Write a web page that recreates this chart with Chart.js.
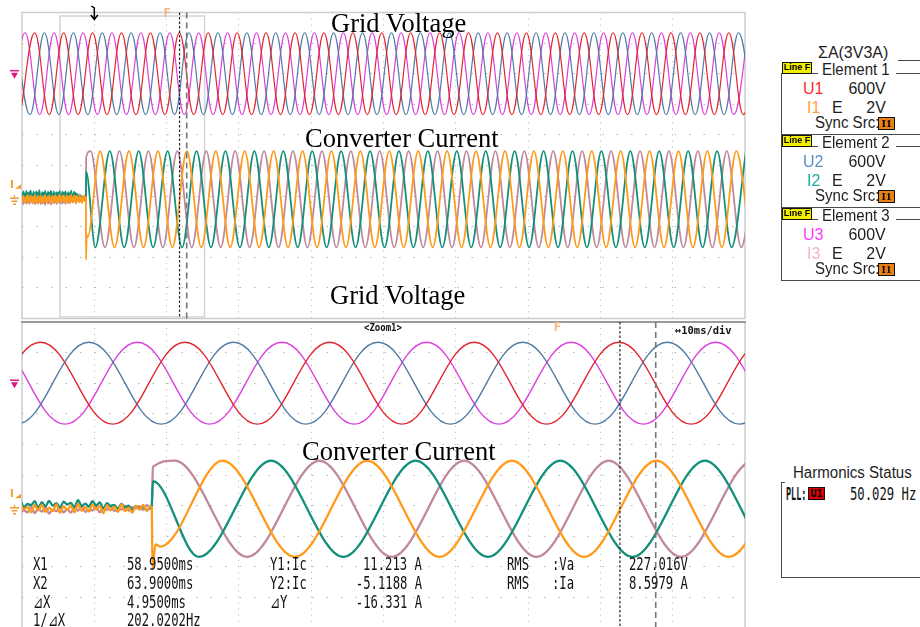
<!DOCTYPE html>
<html>
<head>
<meta charset="utf-8">
<script src="https://cdn.jsdelivr.net/npm/chart.js@4.4.1/dist/chart.umd.min.js"></script>
<style>
  body { margin:0; width:920px; height:627px; overflow:hidden; background:#fff; position:relative; }
  canvas { position:absolute; left:0; }
  .t { position:absolute; white-space:nowrap; line-height:1; }
  .serif { font-family:"Liberation Serif","Times New Roman",serif; font-size:26.5px; color:#000; }
  .mono { font-family:"DejaVu Sans Mono",monospace; font-size:17px; color:#111; transform-origin:left center; transform:translateY(-50%) scaleX(.72); }
  .sans { font-family:"Liberation Sans",Arial,sans-serif; font-size:16px; color:#1e1e1e; transform-origin:left center; transform:translateY(-50%) scaleX(.94); }
  .ln { position:absolute; background:#4a4a4a; }
  .bx { position:absolute; box-sizing:border-box; border:1px solid #111; text-align:center; color:#000; font-weight:bold; overflow:hidden; }
</style>
</head>
<body>
<canvas id="topScope" width="760" height="322" style="top:0"></canvas>
<canvas id="zoomScope" width="760" height="320" style="top:310px"></canvas>
<script>
// time in ms, trigger at 0
const topWindowMs = [-50, 450];        // 50 ms/div
const zoomWindowMs = [-23.75, 76.25];  // Zoom1, 10 ms/div
const cursorMs = [58.95, 63.90];       // X1, X2
const markerFMs = 50.3;

const vPeakV = 321;   // Va 227.016 V rms
const iPeakA = 12.2;  // Ia 8.5979 A rms

// grid voltage extremes (ms)
const u1PeakMs = [-41.2, -21.2, -1.2, 18.8, 38.8, 58.8, 78.8, 98.8, 118.8, 138.8, 158.8, 178.8, 198.8, 218.8, 238.8, 258.8, 278.8, 298.8, 318.8, 338.8, 358.8, 378.8, 398.8, 418.8, 438.8, 458.8];
const u1TroughMs = [-51.2, -31.2, -11.2, 8.8, 28.8, 48.8, 68.8, 88.8, 108.8, 128.8, 148.8, 168.8, 188.8, 208.8, 228.8, 248.8, 268.8, 288.8, 308.8, 328.8, 348.8, 368.8, 388.8, 408.8, 428.8, 448.8];
const u2PeakMs = [-54.5, -34.5, -14.5, 5.5, 25.5, 45.5, 65.5, 85.5, 105.5, 125.5, 145.5, 165.5, 185.5, 205.5, 225.5, 245.5, 265.5, 285.5, 305.5, 325.5, 345.5, 365.5, 385.5, 405.5, 425.5, 445.5];
const u2TroughMs = [-44.5, -24.5, -4.5, 15.5, 35.5, 55.5, 75.5, 95.5, 115.5, 135.5, 155.5, 175.5, 195.5, 215.5, 235.5, 255.5, 275.5, 295.5, 315.5, 335.5, 355.5, 375.5, 395.5, 415.5, 435.5, 455.5];
const u3PeakMs = [-47.8, -27.8, -7.8, 12.2, 32.2, 52.2, 72.2, 92.2, 112.2, 132.2, 152.2, 172.2, 192.2, 212.2, 232.2, 252.2, 272.2, 292.2, 312.2, 332.2, 352.2, 372.2, 392.2, 412.2, 432.2, 452.2];
const u3TroughMs = [-57.8, -37.8, -17.8, 2.2, 22.2, 42.2, 62.2, 82.2, 102.2, 122.2, 142.2, 162.2, 182.2, 202.2, 222.2, 242.2, 262.2, 282.2, 302.2, 322.2, 342.2, 362.2, 382.2, 402.2, 422.2, 442.2];

// converter current extremes (ms), after the converter starts
const i1PeakMs = [4, 24, 44, 64, 84, 104, 124, 144, 164, 184, 204, 224, 244, 264, 284, 304, 324, 344, 364, 384, 404, 424, 444];
const i1TroughMs = [14, 34, 54, 74, 94, 114, 134, 154, 174, 194, 214, 234, 254, 274, 294, 314, 334, 354, 374, 394, 414, 434, 454];
const i2PeakMs = [10.7, 30.7, 50.7, 70.7, 90.7, 110.7, 130.7, 150.7, 170.7, 190.7, 210.7, 230.7, 250.7, 270.7, 290.7, 310.7, 330.7, 350.7, 370.7, 390.7, 410.7, 430.7, 450.7];
const i2TroughMs = [0.7, 20.7, 40.7, 60.7, 80.7, 100.7, 120.7, 140.7, 160.7, 180.7, 200.7, 220.7, 240.7, 260.7, 280.7, 300.7, 320.7, 340.7, 360.7, 380.7, 400.7, 420.7, 440.7];
const i3PeakMs = [-2.6, 17.4, 37.4, 57.4, 77.4, 97.4, 117.4, 137.4, 157.4, 177.4, 197.4, 217.4, 237.4, 257.4, 277.4, 297.4, 317.4, 337.4, 357.4, 377.4, 397.4, 417.4, 437.4, 457.4];
const i3TroughMs = [7.4, 27.4, 47.4, 67.4, 87.4, 107.4, 127.4, 147.4, 167.4, 187.4, 207.4, 227.4, 247.4, 267.4, 287.4, 307.4, 327.4, 347.4, 367.4, 387.4, 407.4, 427.4, 447.4];

// start-up step [ms, A]
const i1Start = [[-5.8, 0.4], [-5.7, -15.3], [-5.3, -9.0], [-4.6, -9.6]];
const i2Start = [[-5.8, 1.0], [-5.65, 7.0]];
const i3Start = [[-5.8, -0.2], [-5.65, 10.6]];

// ripple before start, one sample every 0.5 ms from -50 ms (A)
const noiseStartMs = -50, noiseStepMs = 0.5;
const i1Noise = [0.6,-0.4,0.9,-0.7,0.3,-1.0,0.8,-0.2,1.1,-0.6,0.4,-0.9,1.0,-0.3,0.7,-1.1,0.5,-0.5,1.2,-0.8,0.2,-0.6,0.9,-1.0,0.6,-0.2,1.0,-0.7,0.3,-1.1,0.8,-0.4,1.1,-0.5,0.5,-0.9,0.7,-0.1,1.0,-0.8,0.4,-1.2,0.9,-0.3,0.6,-0.7,1.1,-0.5,0.2,-1.0,0.8,-0.6,1.2,-0.2,0.5,-0.9,0.9,-0.4,1.0,-0.8,0.3,-0.6,1.1,-1.0,0.6,-0.3,0.8,-0.9,1.2,-0.5,0.4,-0.7,1.0,-0.2,0.7,-1.1,0.9,-0.4,0.5,-0.8,1.1,-0.6,0.3,-1.0,0.8,-0.3,1.0,-0.5,0.6];
const i2Noise = [1.7,0.6,2.0,0.8,1.4,0.3,2.1,1.0,1.6,0.4,1.8,0.9,2.2,0.5,1.3,0.7,1.9,0.2,1.5,1.1,2.0,0.4,1.7,0.8,2.3,0.6,1.2,0.3,1.8,1.0,1.6,0.5,2.1,0.7,1.4,0.2,1.9,0.9,1.7,0.4,2.2,0.8,1.3,0.6,2.0,0.3,1.5,1.0,1.8,0.5,1.6,0.7,2.1,0.4,1.2,0.9,1.9,0.2,1.7,0.6,2.0,0.8,1.4,0.3,1.8,1.1,1.5,0.4,2.2,0.7,1.3,0.5,1.9,0.8,1.6,0.1,1.4,0.7,1.0,0.0,1.2,0.3,0.8,-0.3,0.7,0.0,0.6,-0.4,0.4];
const i3Noise = [-0.9,0.2,-1.3,-0.1,-0.6,0.4,-1.1,-0.3,-0.8,0.5,-1.2,0.0,-0.5,0.3,-1.0,-0.4,-0.7,0.6,-1.3,-0.2,-0.9,0.3,-1.1,0.1,-0.6,-0.5,-1.2,0.4,-0.8,-0.1,-1.0,0.2,-1.4,-0.3,-0.7,0.5,-1.1,0.0,-0.9,-0.4,-1.3,0.3,-0.6,0.1,-1.0,-0.2,-0.8,0.4,-1.2,-0.1,-0.5,0.2,-1.0,-0.4,-0.9,0.5,-1.1,0.0,-0.7,0.3,-1.2,-0.2,-0.6,0.4,-0.9,-0.1,-1.0,0.2,-0.5,0.6,-0.8,-0.3,-0.4,0.5,-0.9,0.1,-0.3,0.7,-0.6,0.2,-0.2,0.8,-0.5,0.4,0.1,0.6,-0.3,0.9,0.2];

const colors = { u1:'#e3262d', u2:'#4f7ba6', u3:'#dc3fdc', i1:'#ff9a1a', i2:'#12907a', i3:'#c0899b' };

function wave(peaks, troughs, amp) {
  return peaks.map(t => ({x: t, y: amp})).concat(troughs.map(t => ({x: t, y: -amp}))).sort((a, b) => a.x - b.x);
}
function current(noise, start, peaks, troughs) {
  const pre = noise.map((v, i) => ({x: noiseStartMs + i * noiseStepMs, y: v})).filter(p => p.x < start[0][0]);
  return pre.concat(start.map(([x, y]) => ({x, y})), wave(peaks, troughs, iPeakA));
}

function datasets(vw, iw) {
  const cur = (data, c) => ({data, yAxisID:'yI', borderColor:c, borderWidth:iw, pointRadius:0, tension:0.4, cubicInterpolationMode:'monotone'});
  const volt = (data, c) => ({data, yAxisID:'yV', borderColor:c, borderWidth:vw, pointRadius:0, tension:0.4});
  return [
    cur(current(i1Noise, i1Start, i1PeakMs, i1TroughMs), colors.i1),
    cur(current(i2Noise, i2Start, i2PeakMs, i2TroughMs), colors.i2),
    cur(current(i3Noise, i3Start, i3PeakMs, i3TroughMs), colors.i3),
    volt(wave(u1PeakMs, u1TroughMs, vPeakV), colors.u1),
    volt(wave(u2PeakMs, u2TroughMs, vPeakV), colors.u2),
    volt(wave(u3PeakMs, u3TroughMs, vPeakV), colors.u3)
  ];
}

const tenDivs = s => { s.ticks = Array.from({length: 11}, (_, i) => ({value: s.min + i * (s.max - s.min) / 10})); };
const gridColor = c => (c.index === 0 || c.index === 10) ? 'rgba(0,0,0,0)' : '#b4b4b4';

const scopeDecor = {
  id: 'scopeDecor',
  beforeDatasetsDraw(chart, args, o) {
    const {ctx, chartArea: a, scales: {x}} = chart;
    ctx.save();
    ctx.strokeStyle = '#cdcdcd'; ctx.lineWidth = 1.5;
    ctx.strokeRect(a.left, a.top, a.right - a.left, a.bottom - a.top);
    if (o.zoomed) {
      ctx.strokeStyle = '#9a9a9a'; ctx.lineWidth = 2;
      ctx.beginPath(); ctx.moveTo(a.left - 1, a.top); ctx.lineTo(a.right + 1, a.top); ctx.stroke();
    } else {
      const l = x.getPixelForValue(zoomWindowMs[0]), r = x.getPixelForValue(zoomWindowMs[1]);
      ctx.strokeStyle = '#d4d4d4'; ctx.lineWidth = 1.5;
      ctx.strokeRect(l, a.top + 3.5, r - l, a.bottom - a.top - 5);
    }
    ctx.restore();
  },
  afterDatasetsDraw(chart, args, o) {
    const {ctx, chartArea: a, scales: {x, yV, yI}} = chart;
    ctx.save();
    // cursors
    const x1 = x.getPixelForValue(cursorMs[0]), x2 = x.getPixelForValue(cursorMs[1]);
    ctx.strokeStyle = '#222'; ctx.lineWidth = 1.2; ctx.setLineDash([2.5, 2]);
    ctx.beginPath(); ctx.moveTo(x1, a.top); ctx.lineTo(x1, a.bottom); ctx.stroke();
    ctx.strokeStyle = '#777'; ctx.lineWidth = 1.6; ctx.setLineDash([6, 4]);
    ctx.beginPath(); ctx.moveTo(x2, a.top); ctx.lineTo(x2, a.bottom); ctx.stroke();
    ctx.setLineDash([]);
    // F marker
    const xf = x.getPixelForValue(markerFMs);
    ctx.fillStyle = '#f2b386'; ctx.font = 'bold 12px "DejaVu Sans Mono"';
    ctx.textAlign = 'center'; ctx.textBaseline = 'middle';
    ctx.fillText('F', xf, a.top + (o.zoomed ? 6 : 1));
    if (!o.zoomed) {
      const xt = x.getPixelForValue(0);
      ctx.strokeStyle = '#000'; ctx.lineWidth = 1.5;
      ctx.beginPath(); ctx.moveTo(xt - 3, 6); ctx.lineTo(xt, 8); ctx.lineTo(xt, 19);
      ctx.moveTo(xt - 3.5, 15); ctx.lineTo(xt, 19.5); ctx.lineTo(xt + 3.5, 15); ctx.stroke();
    }
    // voltage ground marker
    const yv = yV.getPixelForValue(0);
    ctx.strokeStyle = ctx.fillStyle = '#d61c7c'; ctx.lineWidth = 1.5;
    ctx.beginPath(); ctx.moveTo(10, yv - 3); ctx.lineTo(19, yv - 3); ctx.stroke();
    ctx.beginPath(); ctx.moveTo(11, yv - 1); ctx.lineTo(18, yv - 1); ctx.lineTo(14.5, yv + 5); ctx.closePath(); ctx.fill();
    // current level + ground marker
    const yi = yI.getPixelForValue(0);
    ctx.strokeStyle = ctx.fillStyle = '#f39a2c';
    ctx.font = 'bold 10px "DejaVu Sans"'; ctx.textAlign = 'left';
    ctx.fillText('I', 10, yi - 14);
    ctx.beginPath(); ctx.moveTo(15, yi - 10.5); ctx.lineTo(21, yi - 10.5); ctx.lineTo(21, yi - 15); ctx.closePath(); ctx.fill();
    ctx.lineWidth = 1.3;
    ctx.beginPath();
    ctx.moveTo(14.5, yi - 4); ctx.lineTo(14.5, yi - 1);
    ctx.moveTo(10, yi - 1); ctx.lineTo(19, yi - 1);
    ctx.moveTo(11.5, yi + 2); ctx.lineTo(17.5, yi + 2);
    ctx.moveTo(13, yi + 5); ctx.lineTo(16, yi + 5);
    ctx.stroke();
    ctx.restore();
  }
};

function scope(id, win, pad, zoomed, vw, iw) {
  return new Chart(document.getElementById(id), {
    type: 'line',
    data: { datasets: datasets(vw, iw) },
    options: {
      responsive: false, animation: false, events: [], parsing: false, normalized: true,
      layout: { padding: pad },
      plugins: { legend: {display: false}, tooltip: {enabled: false}, scopeDecor: {zoomed} },
      scales: {
        x: { type: 'linear', min: win[0], max: win[1], afterBuildTicks: tenDivs,
             ticks: {display: false}, grid: {color: gridColor, lineWidth: 1, drawTicks: false},
             border: {display: false, dash: [1, 5.1]} },
        yV: { type: 'linear', position: 'left', min: -1920, max: 480, afterBuildTicks: tenDivs,
              ticks: {display: false}, grid: {color: gridColor, lineWidth: 1, drawTicks: false},
              border: {display: false, dash: [1.5, 13]} },
        yI: { type: 'linear', display: false, min: -30.2, max: 47.3 }
      }
    },
    plugins: [scopeDecor]
  });
}

scope('topScope', topWindowMs, {left: 22, right: 15, top: 12.5, bottom: 3.5}, false, 1.2, 1.8);
scope('zoomScope', zoomWindowMs, {left: 22, right: 15, top: 12, bottom: 2}, true, 1.4, 2.3);

// ---- text ----
function label(text, x, y, cls, style) {
  const d = document.createElement('div');
  d.className = 't ' + cls;
  d.textContent = text;
  d.style.left = x + 'px'; d.style.top = y + 'px';
  if (style) Object.assign(d.style, style);
  document.body.appendChild(d);
  return d;
}
function right(text, x, y, cls, style) {
  return label(text, 0, y, cls, Object.assign({left: 'auto', right: (920 - x) + 'px', transformOrigin: 'right center'}, style || {}));
}
function line(x, y, w, h) {
  const d = document.createElement('div');
  d.className = 'ln';
  Object.assign(d.style, {left: x + 'px', top: y + 'px', width: w + 'px', height: h + 'px'});
  document.body.appendChild(d);
}
function box(text, x, y, w, h, bg, font) {
  const d = document.createElement('div');
  d.className = 'bx';
  d.textContent = text;
  Object.assign(d.style, {left: x + 'px', top: y + 'px', width: w + 'px', height: h + 'px', background: bg, font: font, lineHeight: (h - 2) + 'px'});
  document.body.appendChild(d);
}

// titles (baseline - 22.2)
label('Grid Voltage', 331, 32 - 22.2, 'serif');
label('Converter Current', 305, 147.5 - 22.2, 'serif');
label('Grid Voltage', 330, 304 - 22.2, 'serif');
label('Converter Current', 302, 460 - 22.2, 'serif');

// zoom header
label('<Zoom1>', 364, 328, 'mono', {fontSize: '10px', fontWeight: 'bold', transform: 'translateY(-50%) scaleX(.9)'});
label('\u2194' + '10ms/div', 675, 330, 'mono', {fontSize: '11px', fontWeight: 'bold', transform: 'translateY(-50%) scaleX(.95)'});

// cursor readouts
const rowY = [564, 583, 601.5, 620];
['X1', 'X2', '\u22BFX', '1/\u22BFX'].forEach((s, i) => label(s, 33, rowY[i], 'mono'));
['58.9500ms', '63.9000ms', '4.9500ms', '202.0202Hz'].forEach((s, i) => label(s, 127, rowY[i], 'mono'));
['Y1:Ic', 'Y2:Ic', '\u22BFY'].forEach((s, i) => label(s, 270, rowY[i], 'mono'));
['11.213 A', '-5.1188 A', '-16.331 A'].forEach((s, i) => right(s, 422, rowY[i], 'mono'));
['RMS', 'RMS'].forEach((s, i) => label(s, 507, rowY[i], 'mono'));
[':Va', ':Ia'].forEach((s, i) => label(s, 552, rowY[i], 'mono'));
['227.016V', '8.5979 A'].forEach((s, i) => label(s, 629, rowY[i], 'mono'));

// right info panel
label('\u03A3A(3V3A)', 818, 52, 'sans', {fontSize: '17px'});
line(898, 60, 22, 1);
const elemNames = ['Element 1', 'Element 2', 'Element 3'];
const elemU = ['U1', 'U2', 'U3'], elemI = ['I1', 'I2', 'I3'];
const uColors = ['#ff2b2b', '#5a8dc5', '#ff35ff'], iColors = ['#ffa23a', '#23a9a2', '#f6b2c8'];
elemNames.forEach((name, k) => {
  const dy = 73.2 * k;
  box('Line F', 782, 62 + dy, 30, 11.5, '#f2ee00', 'bold 9px "Liberation Sans Narrow","Liberation Sans"');
  line(812, 72.5 + dy, 6, 1);
  label(name, 822, 70 + dy, 'sans');
  line(896, 72.5 + dy, 24, 1);
  label(elemU[k], 803, 88 + dy, 'sans', {color: uColors[k], fontSize: '17px'});
  right('600V', 886, 88 + dy, 'sans', {fontSize: '17px'});
  label(elemI[k], 807, 106.5 + dy, 'sans', {color: iColors[k], fontSize: '17px'});
  label('E', 832, 106.5 + dy, 'sans', {fontSize: '17px'});
  right('2V', 886, 106.5 + dy, 'sans', {fontSize: '17px'});
  label('Sync Src:', 815, 122.5 + dy, 'sans');
  box('I1', 878, 116.5 + dy, 17, 13, '#e97f17', 'bold 11px "Liberation Serif"');
  line(781, 133.5 + dy, 139, 1);
});
line(781, 73, 1, 207);

// harmonics status
label('Harmonics Status', 793, 473, 'sans');
line(781, 482, 1, 96);
line(781, 482, 4, 1);
line(781, 577, 139, 1);
label('PLL:', 786, 494, 'mono', {fontWeight: 'bold', transform: 'translateY(-50%) scaleX(.5)'});
box('U1', 808, 487, 17, 13, '#dd0000', 'bold 10px "DejaVu Sans Mono"');
label('50.029 Hz', 850, 494, 'mono');
</script>
</body>
</html>
